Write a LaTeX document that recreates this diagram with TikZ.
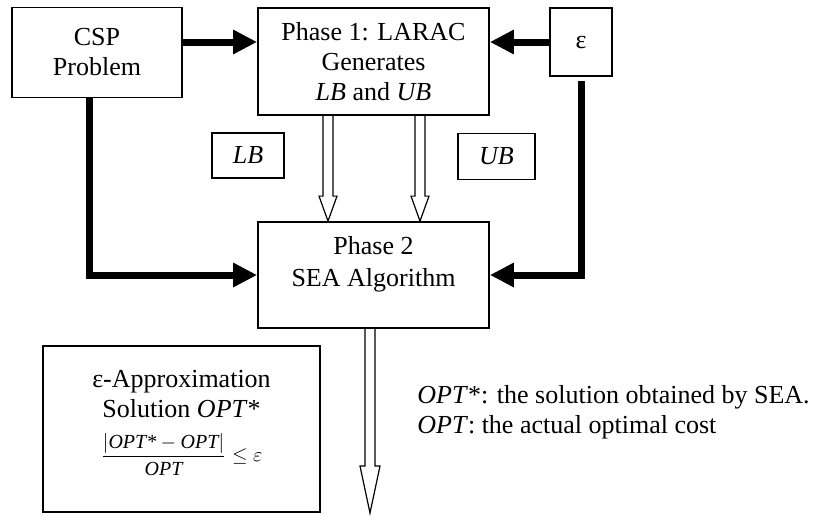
\documentclass[tikz,border=0pt]{standalone}
\usepackage{fontspec}
\setmainfont{Liberation Serif}
\usetikzlibrary{arrows.meta,calc}

\tikzset{
  box/.style={draw, line width=0.9pt, align=center, inner sep=0pt},
  bold/.style={line width=3.5pt, -{Triangle[length=12pt,width=11.5pt]}}
}

% open arrow: start, end, half head width, head length
\newcommand{\hollowarrow}[4]{%
  \draw[line width=0.6pt] let \p1=#1, \p2=#2 in
    (\x1-2.5pt,\y1) -- (\x1-2.5pt,\y2+#4) -- (\x1-#3,\y2+#4) -- (\x1,\y2)
    -- (\x1+#3,\y2+#4) -- (\x1+2.5pt,\y2+#4) -- (\x1+2.5pt,\y1);}

\begin{document}
\begin{tikzpicture}[x=0.5pt, y=-0.5pt, font=\fontsize{13}{15}\selectfont]
    \useasboundingbox (0,0) rectangle (817,515);

    % input boxes
    \node[box, minimum width=85pt, minimum height=45pt] (csp) at (97,52.5)
        {CSP\\Problem};
    \node[box, minimum width=115.5pt, minimum height=53.5pt] (ph1) at (373.5,61.5)
        {Phase 1: LARAC\\Generates\\\textit{LB} and \textit{UB}};
    \node[box, minimum width=31pt, minimum height=34pt] (eps) at (581,42) {ε};

    \node[box, minimum width=36pt, minimum height=22.5pt] (lb) at (248,155.5) {\textit{LB}};
    \node[box, minimum width=38.5pt, minimum height=23pt] (ub) at (496.5,156.5) {\textit{UB}};

    \node[box, minimum width=115.5pt, minimum height=53pt,
          label={[align=center, yshift=5.5pt]center:Phase 2\\[1pt]SEA Algorithm}] (ph2) at (373.5,275) {};

    % result
    \node[box, minimum width=138.5pt, minimum height=83pt,
          label={[align=center, yshift=3pt]center:ε-Approximation\\Solution \textit{OPT}*\\[7pt]
          {\fontsize{10}{12}\selectfont $\displaystyle\frac{|\textit{OPT*}-\textit{OPT}|}{\textit{OPT}}\leq\varepsilon$}}] (apx) at (181.5,429) {};

    \node[anchor=west, align=left, inner sep=0pt] (note) at (417,412)
        {\textit{OPT}*: the solution obtained by SEA.\\\textit{OPT}: the actual optimal cost};

    \coordinate (solend) at (370,513);

    % connectors
    \draw[bold] (csp.east |- eps) -- (ph1.west |- eps);
    \draw[bold] (eps.west) -- (ph1.east |- eps.west);
    \draw[bold] ([xshift=-4pt]csp.south) |- (ph2.west);
    \draw[bold, shorten <=2pt] (eps.south) |- (ph2.east);

    \hollowarrow{([xshift=-22.75pt]ph1.south)}{([xshift=-22.75pt]ph2.north)}{4.5pt}{12.5pt}
    \hollowarrow{([xshift=23.25pt]ph1.south)}{([xshift=23.25pt]ph2.north)}{4.5pt}{12.5pt}
    \hollowarrow{([xshift=-1.75pt]ph2.south)}{(solend)}{5pt}{23.5pt}
\end{tikzpicture}
\end{document}
